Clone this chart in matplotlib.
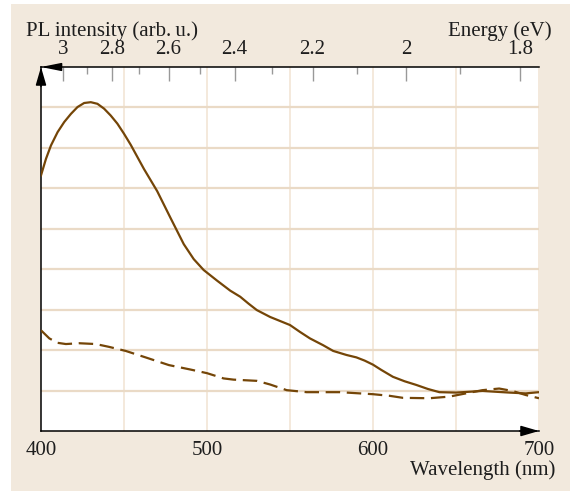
import matplotlib
matplotlib.use("Agg")
import matplotlib.pyplot as plt
from matplotlib.patches import Rectangle

plt.rcParams["font.family"] = ["Liberation Serif", "DejaVu Serif"]
plt.rcParams["font.size"] = 15

# wavelength (nm) and PL intensity (arb. units, grid steps)
wl_solid = [400, 403, 406, 410, 414, 418, 422, 426, 430, 434,
            438, 442, 446, 450, 454, 458, 462, 470, 478, 486,
            492, 498, 506, 514, 520, 525, 530, 538, 550, 556,
            562, 570, 576, 584, 590, 595, 600, 605, 612, 619,
            626, 633, 640, 650, 666, 682, 692, 700]
pl_solid = [6.32, 6.73, 7.06, 7.39, 7.64, 7.84, 8.01, 8.11, 8.13, 8.09,
            7.97, 7.80, 7.60, 7.35, 7.08, 6.78, 6.48, 5.93, 5.27, 4.62,
            4.25, 3.98, 3.72, 3.47, 3.32, 3.15, 2.99, 2.82, 2.62, 2.45,
            2.29, 2.12, 1.98, 1.88, 1.82, 1.74, 1.64, 1.51, 1.34, 1.23,
            1.14, 1.04, 0.96, 0.95, 0.99, 0.95, 0.93, 0.96]

wl_dash = [400, 405, 410, 415, 423, 433, 441, 451, 463, 477,
           490, 500, 510, 516, 530, 538, 548, 560, 580, 600,
           610, 618, 634, 646, 656, 666, 676, 684, 692, 700]
pl_dash = [2.49, 2.29, 2.18, 2.15, 2.17, 2.15, 2.08, 1.98, 1.82, 1.63,
           1.52, 1.43, 1.30, 1.27, 1.24, 1.15, 1.01, 0.96, 0.96, 0.91,
           0.87, 0.82, 0.81, 0.85, 0.93, 1.01, 1.05, 0.99, 0.89, 0.81]

wl_ticks = [400, 500, 600, 700]
ev_major = [3, 2.8, 2.6, 2.4, 2.2, 2, 1.8]
ev_minor = [2.9, 2.7, 2.5, 2.3, 2.1, 1.9]

HC = 1239.84
BROWN = "#744507"
BEIGE = "#f2e9dd"
TEXT = "#1e1e1e"

fig = plt.figure(figsize=(5.70, 4.91), dpi=100)
fig.patch.set_facecolor("white")
fig.patches.append(Rectangle((11 / 570, 0), 1 - 11 / 570, 487 / 491,
                             transform=fig.transFigure, facecolor=BEIGE,
                             edgecolor="none", zorder=-10))

ax = fig.add_axes([41 / 570, 60 / 491, 498 / 570, 364 / 491])
ax.set_facecolor("white")
ax.set_xlim(400, 700)
ax.set_ylim(0, 9)

for x in range(450, 701, 50):
    ax.axvline(x, color="#f3e7d9", lw=1.3, zorder=0)
for y in range(1, 9):
    ax.axhline(y, color="#eadac6", lw=1.6, zorder=0)

ax.plot(wl_solid, pl_solid, color=BROWN, lw=1.6, zorder=3,
        solid_joinstyle="round")
ax.plot(wl_dash, pl_dash, color=BROWN, lw=1.6, dashes=(6.5, 3), zorder=3)

ax.set_xticks(wl_ticks)
ax.set_yticks([])
ax.tick_params(axis="x", length=0, pad=7, colors=TEXT, labelsize=15)
for s in ["left", "bottom"]:
    ax.spines[s].set_linewidth(1.1)
    ax.spines[s].set_color("black")
ax.spines["right"].set_visible(False)
ax.spines["top"].set_visible(False)

top = ax.twiny()
top.set_xlim(400, 700)
top.set_xticks([HC / e for e in ev_major])
top.set_xticklabels([f"{e:g}" for e in ev_major])
top.set_xticks([HC / e for e in ev_minor], minor=True)
top.tick_params(axis="x", which="major", direction="in", length=10,
                width=1, color="#999999", pad=6, labelsize=15, labelcolor=TEXT)
top.tick_params(axis="x", which="minor", direction="in", length=5,
                width=1, color="#999999")
for s in ["left", "bottom", "right"]:
    top.spines[s].set_visible(False)
top.spines["top"].set_linewidth(1.1)
top.spines["top"].set_color("black")

# arrowheads on the axes
head = dict(arrowstyle="-|>,head_length=0.55,head_width=0.16",
            color="black", lw=1.1, shrinkA=0, shrinkB=0, mutation_scale=20)
ax.annotate("", xy=(0, 1), xycoords="axes fraction", xytext=(0, -14),
            textcoords="offset points", arrowprops=head, annotation_clip=False)
ax.annotate("", xy=(0, 1), xycoords="axes fraction", xytext=(14, 0),
            textcoords="offset points",
            arrowprops=dict(head, arrowstyle="-|>,head_length=0.6,head_width=0.12"),
            annotation_clip=False)
ax.annotate("", xy=(1, 0), xycoords="axes fraction", xytext=(-14, 0),
            textcoords="offset points", arrowprops=head, annotation_clip=False)

fig.text(26 / 570, 1 - 36 / 491, "PL intensity (arb.\u2009u.)", ha="left",
         va="baseline", color=TEXT, fontsize=15)
fig.text(552 / 570, 1 - 36 / 491, "Energy (eV)", ha="right",
         va="baseline", color=TEXT, fontsize=15)
fig.text(555 / 570, 1 - 475 / 491, "Wavelength (nm)", ha="right",
         va="baseline", color=TEXT, fontsize=15)

fig.savefig("out.png", dpi=100, facecolor=fig.get_facecolor())
